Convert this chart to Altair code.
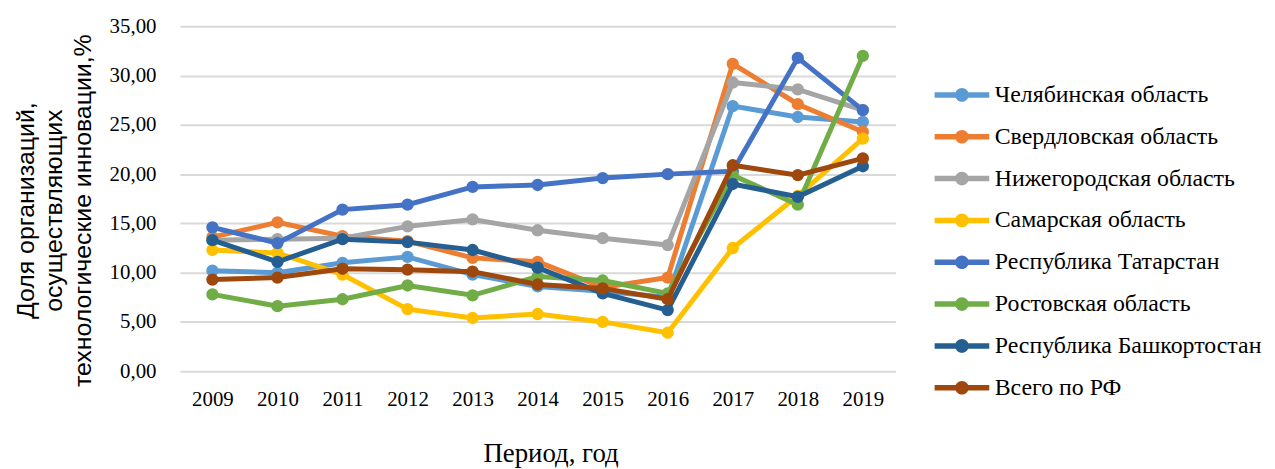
import altair as alt
import pandas as pd

years = [2009, 2010, 2011, 2012, 2013, 2014, 2015, 2016, 2017, 2018, 2019]
names = [
    "Челябинская область",
    "Свердловская область",
    "Нижегородская область",
    "Самарская область",
    "Республика Татарстан",
    "Ростовская область",
    "Республика Башкортостан",
    "Всего по РФ",
]
colors = ["#5B9BD5", "#ED7D31", "#A5A5A5", "#FFC000", "#4472C4", "#70AD47", "#255E91", "#9E480E"]

chel = [10.2, 10.0, 11.0, 11.6, 9.8, 8.6, 8.1, 7.5, 26.9, 25.8, 25.3]
sverd = [13.6, 15.1, 13.7, 13.2, 11.5, 11.1, 8.5, 9.5, 31.2, 27.1, 24.3]
nizh = [13.3, 13.4, 13.5, 14.7, 15.4, 14.3, 13.5, 12.8, 29.3, 28.6, 26.5]
samar = [12.3, 12.0, 9.8, 6.3, 5.4, 5.8, 5.0, 3.9, 12.5, 17.8, 23.6]
tatar = [14.6, 13.0, 16.4, 16.9, 18.7, 18.9, 19.6, 20.0, 20.3, 31.8, 26.5]
rost = [7.8, 6.6, 7.3, 8.7, 7.7, 9.6, 9.2, 7.9, 19.9, 16.9, 32.0]
bash = [13.3, 11.1, 13.4, 13.1, 12.3, 10.5, 7.9, 6.2, 19.0, 17.7, 20.8]
rf = [9.3, 9.5, 10.4, 10.3, 10.1, 8.8, 8.4, 7.3, 20.9, 19.9, 21.6]
series_values = [chel, sverd, nizh, samar, tatar, rost, bash, rf]

y_ticks = [0, 5, 10, 15, 20, 25, 30, 35]

rows = []
for n, vals in zip(names, series_values):
    for yr, v in zip(years, vals):
        rows.append({"year": str(yr), "series": n, "value": v})
df = pd.DataFrame(rows)

x_enc = alt.X(
    "year:O",
    scale=alt.Scale(type="point", padding=0.5),
    axis=alt.Axis(
        title="Период, год",
        labelAngle=0,
        labelFont="Liberation Serif",
        labelFontSize=21,
        labelColor="black",
        labelPadding=18,
        titleFont="Liberation Serif",
        titleFontSize=27,
        titleFontWeight="normal",
        titleColor="black",
        titlePadding=31,
        titleX=373,
        titleAlign="center",
        domain=False,
        ticks=False,
        grid=False,
    ),
)
y_enc = alt.Y(
    "value:Q",
    scale=alt.Scale(domain=[0, 35], nice=False),
    axis=alt.Axis(
        values=y_ticks,
        title=["Доля организаций,", "осуществляющих", "технологические инновации,%"],
        labelExpr="replace(format(datum.value, '.2f'), '.', ',')",
        labelFont="Liberation Serif",
        labelFontSize=21,
        labelColor="black",
        labelPadding=24,
        titleFont="Liberation Sans",
        titleFontSize=25,
        titleFontWeight="normal",
        titleColor="black",
        titleLineHeight=28.5,
        titlePadding=14,
        titleY=185,
        domain=False,
        ticks=False,
        grid=True,
        gridColor="#D9D9D9",
        gridWidth=2,
    ),
)

fill_scale = alt.Scale(domain=names, range=colors)
sym_path = (
    "M-2,-0.2L2,-0.2L2,0.2L-2,0.2Z "
    "M-0.5,0A0.5,0.5 0 1,1 0.5,0A0.5,0.5 0 1,1 -0.5,0Z"
)
legend = alt.Legend(
    title=None,
    orient="none",
    legendX=773,
    legendY=55,
    symbolType=sym_path,
    symbolSize=756,
    symbolStrokeWidth=0,
    symbolOpacity=1,
    labelFont="Liberation Serif",
    labelFontSize=24,
    labelColor="black",
    labelOffset=19,
    labelLimit=400,
    rowPadding=16.1,
)

layers = []
for n, c in zip(names, colors):
    base = alt.Chart(df).transform_filter(alt.datum.series == n)
    line = base.mark_line(strokeWidth=5).encode(
        x=x_enc, y=y_enc,
        color=alt.value(c),
    )
    pts = base.mark_circle(size=154, opacity=1).encode(
        x=x_enc, y=y_enc,
        fill=alt.Fill("series:N", scale=fill_scale, legend=legend),
    )
    layers += [line, pts]

chart = (
    alt.layer(*layers)
    .properties(width=720, height=347, padding={"left": 5, "top": 6, "right": 5, "bottom": 5}, background="white")
    .configure_view(stroke=None)
)

chart.save("out.html", embed_options={"renderer": "svg", "actions": False})
